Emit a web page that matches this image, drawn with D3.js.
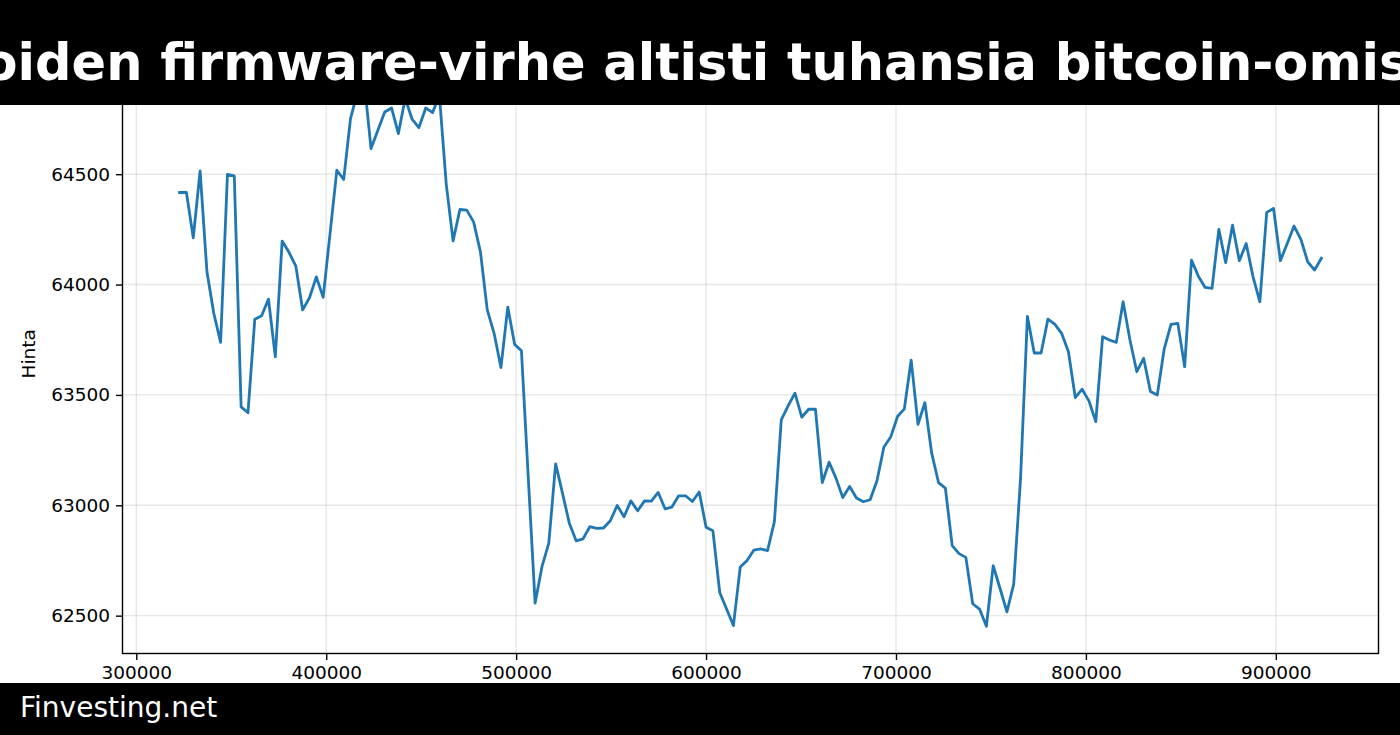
<!DOCTYPE html>
<html>
<head>
<meta charset="utf-8">
<script src="https://cdn.jsdelivr.net/npm/d3@7"></script>
<style>
  html, body { margin: 0; padding: 0; background: #fff; }
  svg { display: block; font-family: "DejaVu Sans", sans-serif; }
</style>
</head>
<body>
<div id="chart"></div>
<script>
// otsikko ja alatunniste
const titleText = "Lompakoiden firmware-virhe altisti tuhansia bitcoin-omistajia";
const footerText = "Finvesting.net";
const yLabel = "Hinta";

// x-arvot (aika / korkeus)
const xs = [
  322800, 326400, 330000, 333600, 337200, 340800, 344400, 348000, 351600, 355200,
  358800, 362400, 366000, 369600, 373200, 376800, 380400, 384000, 387600, 391200,
  394800, 398400, 402000, 405600, 409200, 412800, 416400, 420000, 423600, 427200,
  430800, 434400, 438000, 441600, 445200, 448800, 452400, 456000, 459600, 463200,
  466800, 470400, 474000, 477600, 481200, 484800, 488400, 492000, 495600, 499200,
  502800, 506400, 510000, 513600, 517200, 520800, 524400, 528000, 531600, 535200,
  538800, 542400, 546000, 549600, 553200, 556800, 560400, 564000, 567600, 571200,
  574800, 578400, 582000, 585600, 589200, 592800, 596400, 600000, 603600, 607200,
  610800, 614400, 618000, 621600, 625200, 628800, 632400, 636000, 639600, 643200,
  646800, 650400, 654000, 657600, 661200, 664800, 668400, 672000, 675600, 679200,
  682800, 686400, 690000, 693600, 697200, 700800, 704400, 708000, 711600, 715200,
  718800, 722400, 726000, 729600, 733200, 736800, 740400, 744000, 747600, 751200,
  754800, 758400, 762000, 765600, 769200, 772800, 776400, 780000, 783600, 787200,
  790800, 794400, 798000, 801600, 805200, 808800, 812400, 816000, 819600, 823200,
  826800, 830400, 834000, 837600, 841200, 844800, 848400, 852000, 855600, 859200,
  862800, 866400, 870000, 873600, 877200, 880800, 884400, 888000, 891600, 895200,
  898800, 902400, 906000, 909600, 913200, 916800, 920400, 924000
];

// hinta
const prices = [
  64417, 64417, 64212, 64515, 64058, 63870, 63738, 64499, 64492, 63446,
  63419, 63843, 63859, 63934, 63673, 64197, 64146, 64084, 63885, 63940,
  64035, 63942, 64230, 64518, 64476, 64752, 64871, 64921, 64616, 64699,
  64782, 64800, 64684, 64844, 64749, 64711, 64800, 64779, 64857, 64455,
  64198, 64340, 64337, 64284, 64148, 63885, 63779, 63624, 63898, 63729,
  63700, 63124, 62557, 62722, 62829, 63188, 63055, 62919, 62839, 62848,
  62903, 62895, 62897, 62930, 62999, 62948, 63020, 62975, 63020, 63019,
  63058, 62984, 62992, 63043, 63043, 63017, 63060, 62901, 62885, 62605,
  62530, 62455, 62720, 62750, 62797, 62802, 62795, 62927, 63387, 63450,
  63508, 63399, 63435, 63435, 63103, 63195, 63123, 63035, 63085, 63033,
  63016, 63025, 63111, 63263, 63309, 63402, 63437, 63658, 63367, 63465,
  63236, 63103, 63078, 62817, 62781, 62764, 62554, 62530, 62452, 62726,
  62623, 62517, 62643, 63124, 63856, 63690, 63690, 63843, 63821, 63779,
  63696, 63488, 63526, 63473, 63379, 63764, 63749, 63738, 63922, 63749,
  63605, 63666, 63515, 63500, 63707, 63820, 63824, 63628, 64111, 64038,
  63987, 63983, 64250, 64099, 64269, 64108, 64186, 64035, 63922, 64327,
  64345, 64108, 64186, 64265, 64205, 64103, 64066, 64119
];

const xTicks = [300000, 400000, 500000, 600000, 700000, 800000, 900000];
// 65000 jää otsikkopalkin alle, joten sitä ei piirretä
const yTicks = [62500, 63000, 63500, 64000, 64500];

const W = 1400, H = 735;
const margin = { left: 122.5, right: 1400 - 1378.5, top: 54, bottom: 735 - 653.5 };

const svg = d3.select("#chart").append("svg")
  .attr("width", W).attr("height", H);

svg.append("rect").attr("width", W).attr("height", H).attr("fill", "#fff");

// matplotlibin tapaan 5 % marginaali
const xExt = d3.extent(xs), yExt = d3.extent(prices);
const xPad = (xExt[1] - xExt[0]) * 0.05, yPad = (yExt[1] - yExt[0]) * 0.05;

const x = d3.scaleLinear()
  .domain([xExt[0] - xPad, xExt[1] + xPad])
  .range([margin.left, W - margin.right]);
const y = d3.scaleLinear()
  .domain([yExt[0] - yPad, yExt[1] + yPad])
  .range([H - margin.bottom, margin.top]);

const plot = svg.append("g");

// ruudukko
plot.append("g").selectAll("line.gx")
  .data(xTicks).join("line")
  .attr("x1", d => x(d)).attr("x2", d => x(d))
  .attr("y1", margin.top).attr("y2", H - margin.bottom)
  .attr("stroke", "#b0b0b0").attr("stroke-opacity", 0.3).attr("stroke-width", 1.4);
plot.append("g").selectAll("line.gy")
  .data(yTicks).join("line")
  .attr("x1", margin.left).attr("x2", W - margin.right)
  .attr("y1", d => y(d)).attr("y2", d => y(d))
  .attr("stroke", "#b0b0b0").attr("stroke-opacity", 0.3).attr("stroke-width", 1.4);

// viiva
const line = d3.line().x((d, i) => x(xs[i])).y(d => y(d));
plot.append("path")
  .datum(prices)
  .attr("d", line)
  .attr("fill", "none")
  .attr("stroke", "#1f77b4")
  .attr("stroke-width", 2.8)
  .attr("stroke-linejoin", "round")
  .attr("stroke-linecap", "square");

// akselit
const fontSize = "18.5px";
const xAxis = svg.append("g")
  .attr("transform", `translate(0,${H - margin.bottom})`)
  .call(d3.axisBottom(x).tickValues(xTicks).tickFormat(d3.format("d")).tickSize(6.5).tickPadding(6))
  .call(g => g.select(".domain").remove());
const yAxis = svg.append("g")
  .attr("transform", `translate(${margin.left},0)`)
  .call(d3.axisLeft(y).tickValues(yTicks).tickFormat(d3.format("d")).tickSize(6.5).tickPadding(6))
  .call(g => g.select(".domain").remove());
[xAxis, yAxis].forEach(g => {
  g.selectAll("text").attr("font-family", "DejaVu Sans").style("font-size", fontSize).attr("fill", "#000");
  g.selectAll("line").attr("stroke", "#000").attr("stroke-width", 1.4);
});

// reunat
svg.append("rect")
  .attr("x", margin.left).attr("y", margin.top)
  .attr("width", W - margin.right - margin.left)
  .attr("height", H - margin.bottom - margin.top)
  .attr("fill", "none").attr("stroke", "#000").attr("stroke-width", 1.4);

svg.append("text")
  .attr("transform", `translate(30,${(margin.top + H - margin.bottom) / 2}) rotate(-90)`)
  .attr("text-anchor", "middle")
  .attr("dominant-baseline", "middle")
  .style("font-size", fontSize)
  .text(yLabel);

// otsikkopalkki (otsikko on leveämpi kuin kuva, kuten alkuperäisessä)
svg.append("rect").attr("x", 0).attr("y", 0).attr("width", W).attr("height", 105).attr("fill", "#000");
svg.append("text")
  .attr("x", W / 2 - 52).attr("y", 80)
  .attr("text-anchor", "middle")
  .attr("fill", "#fff")
  .style("font-size", "51px")
  .style("font-weight", "bold")
  .text(titleText);

// alatunniste
svg.append("rect").attr("x", 0).attr("y", 683).attr("width", W).attr("height", H - 683).attr("fill", "#000");
svg.append("text")
  .attr("x", 20).attr("y", 717)
  .attr("fill", "#fff")
  .style("font-size", "28px")
  .text(footerText);
</script>
</body>
</html>
